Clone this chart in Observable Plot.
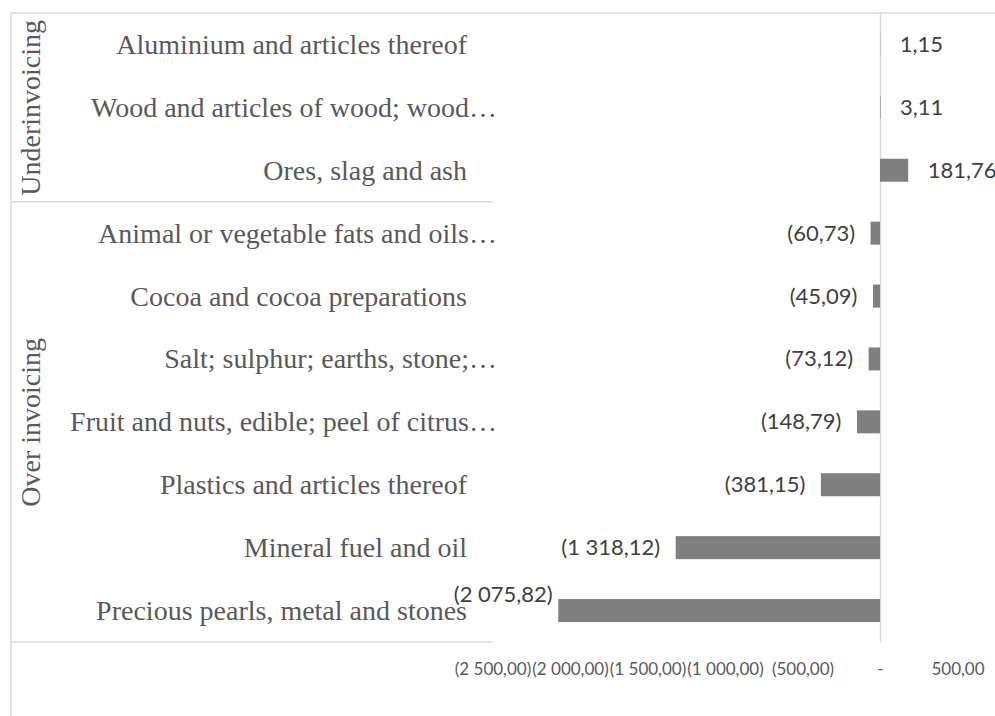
<!DOCTYPE html>
<html><head><meta charset="utf-8">
<script src="https://cdn.jsdelivr.net/npm/d3@7"></script>
<script src="https://cdn.jsdelivr.net/npm/@observablehq/plot@0.6"></script>
<style>
html,body{margin:0;padding:0;background:#fff;overflow:hidden;}
</style>
</head><body><div id="chart"></div>
<script>
const categories = [
  "Aluminium and articles thereof",
  "Wood and articles of wood; wood…",
  "Ores, slag and ash",
  "Animal or vegetable fats and oils…",
  "Cocoa and cocoa preparations",
  "Salt; sulphur; earths, stone;…",
  "Fruit and nuts, edible; peel of citrus…",
  "Plastics and articles thereof",
  "Mineral fuel and oil",
  "Precious pearls, metal and stones"
];
const values = [1.15, 3.11, 181.76, -60.73, -45.09, -73.12, -148.79, -381.15, -1318.12, -2075.82];
const groups = ["Underinvoicing", "Underinvoicing", "Underinvoicing",
  "Over invoicing", "Over invoicing", "Over invoicing", "Over invoicing",
  "Over invoicing", "Over invoicing", "Over invoicing"];
const groupNames = ["Underinvoicing", "Over invoicing"];
const xTicks = [-2500, -2000, -1500, -1000, -500, 0, 500];
const labelAbove = ["Precious pearls, metal and stones"];

const loc = d3.formatLocale({decimal: ",", thousands: "\u00a0", grouping: [3], currency: ["", ""]});
const f2 = loc.format(",.2f");
const fmt = v => v === 0 ? "-" : v < 0 ? `(${f2(-v)})` : f2(v);

const rows = categories.map((c, i) => ({category: c, value: values[i], group: groups[i], label: fmt(values[i])}));
const groupRows = groupNames.map(g => {
  const members = rows.filter(r => r.group === g);
  return {name: g, mid: members[Math.floor(members.length / 2)].category, last: members[members.length - 1].category};
});
const truncated = r => r.category.endsWith("…");

const W = 995, H = 716;
const mTop = 13, mBottom = 74, mLeft = 492.5, mRight = 37.5;
const serif = "Liberation Serif, Times New Roman, serif";
const sans = "Lato, Calibri, sans-serif";

const plot = Plot.plot({
  width: W, height: H,
  marginTop: mTop, marginBottom: mBottom, marginLeft: mLeft, marginRight: mRight,
  style: {fontFamily: sans, background: "white", overflow: "visible"},
  x: {domain: [-2500, 500], label: null},
  y: {domain: categories, axis: null, paddingInner: 0.634, paddingOuter: 0.317, round: false},
  marks: [
    Plot.ruleX([0], {stroke: "#d9d9d9", strokeWidth: 1.5}),
    Plot.barX(rows, {x: "value", y: "category", fill: "#7f7f7f"}),
    Plot.text(rows.filter(r => r.value >= 0 && !labelAbove.includes(r.category)),
      {x: "value", y: "category", text: "label", textAnchor: "start", dx: 19, fontSize: 22, fill: "#404040", fontFamily: sans}),
    Plot.text(rows.filter(r => r.value < 0 && !labelAbove.includes(r.category)),
      {x: "value", y: "category", text: "label", textAnchor: "end", dx: -16, fontSize: 22, fill: "#404040", fontFamily: sans}),
    Plot.text(rows.filter(r => labelAbove.includes(r.category)),
      {x: "value", y: "category", text: "label", textAnchor: "end", dx: -6, dy: -16, fontSize: 22, fill: "#404040", fontFamily: sans}),
    Plot.text(rows.filter(r => !truncated(r)),
      {y: "category", text: "category", frameAnchor: "left", textAnchor: "end", dx: -26, fontSize: 28, fill: "#595959", fontFamily: serif}),
    Plot.text(rows.filter(r => truncated(r)),
      {y: "category", text: "category", frameAnchor: "left", textAnchor: "end", dx: 4, fontSize: 28, fill: "#595959", fontFamily: serif}),
    Plot.text(groupRows,
      {y: "mid", text: "name", frameAnchor: "left", textAnchor: "middle", lineAnchor: "middle", rotate: -90, dx: -462, fontSize: 28, fill: "#595959", fontFamily: serif}),
    Plot.axisX(xTicks, {tickFormat: fmt, tickSize: 0, tickPadding: 20, fontSize: 17, fontFamily: sans, color: "#595959", label: null})
  ]
});

// axis-area frame lines (category axis borders)
const ys = plot.scale("y");
const svg = d3.select(plot);
const gap = (ys.step - ys.bandwidth) / 2;
const g = svg.append("g").attr("stroke", "#d9d9d9").attr("stroke-width", 1.5);
g.append("line").attr("x1", 11).attr("x2", W).attr("y1", mTop).attr("y2", mTop);
g.append("line").attr("x1", 11).attr("x2", 11).attr("y1", mTop).attr("y2", H);
groupRows.forEach(gr => {
  const yy = ys.apply(gr.last) + ys.bandwidth + gap;
  g.append("line").attr("x1", 11).attr("x2", mLeft).attr("y1", yy).attr("y2", yy);
});

document.getElementById("chart").appendChild(plot);
</script>
</body></html>
